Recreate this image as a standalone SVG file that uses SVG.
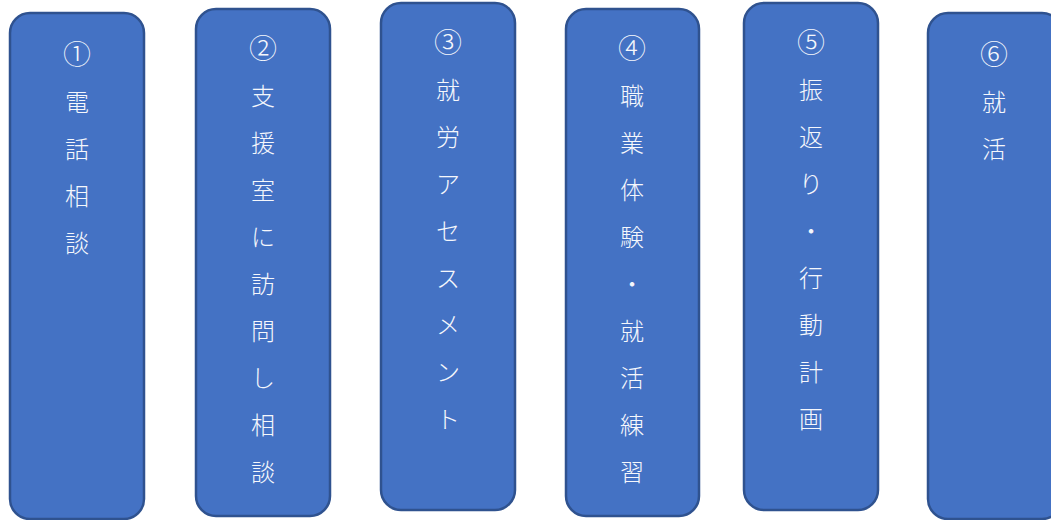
<svg xmlns="http://www.w3.org/2000/svg" width="1051" height="520" viewBox="0 0 1051 520">
<style>
.box{fill:#4472C4;stroke:#2F528F;stroke-width:2.5}
.t{fill:#F5F7FC;font-family:"Noto Sans CJK JP","Noto Sans CJK SC",sans-serif;font-size:24px;font-weight:300;text-anchor:middle}
.n{font-size:28px}
</style>
<rect width="1051" height="520" fill="#FFFFFF"/>
<g id="connectors"></g>
<g id="node1">
<rect class="box" x="10" y="13" width="134" height="506" rx="20"/>
<text class="t"><tspan class="n" x="77" y="65">①</tspan><tspan x="77" dy="46">電</tspan><tspan x="77" dy="47">話</tspan><tspan x="77" dy="47">相</tspan><tspan x="77" dy="47">談</tspan></text>
</g>
<g id="node2">
<rect class="box" x="196" y="9" width="134" height="507" rx="20"/>
<text class="t"><tspan class="n" x="263" y="59">②</tspan><tspan x="263" dy="46">支</tspan><tspan x="263" dy="47">援</tspan><tspan x="263" dy="47">室</tspan><tspan x="263" dy="47">に</tspan><tspan x="263" dy="47">訪</tspan><tspan x="263" dy="47">問</tspan><tspan x="263" dy="47">し</tspan><tspan x="263" dy="47">相</tspan><tspan x="263" dy="47">談</tspan></text>
</g>
<g id="node3">
<rect class="box" x="381" y="3" width="134" height="507" rx="20"/>
<text class="t"><tspan class="n" x="448" y="53">③</tspan><tspan x="448" dy="46">就</tspan><tspan x="448" dy="47">労</tspan><tspan x="448" dy="47">ア</tspan><tspan x="448" dy="47">セ</tspan><tspan x="448" dy="47">ス</tspan><tspan x="448" dy="47">メ</tspan><tspan x="448" dy="47">ン</tspan><tspan x="448" dy="47">ト</tspan></text>
</g>
<g id="node4">
<rect class="box" x="566" y="9" width="133" height="507" rx="20"/>
<text class="t"><tspan class="n" x="632" y="59">④</tspan><tspan x="632" dy="46">職</tspan><tspan x="632" dy="47">業</tspan><tspan x="632" dy="47">体</tspan><tspan x="632" dy="47">験</tspan><tspan x="632" dy="47">・</tspan><tspan x="632" dy="47">就</tspan><tspan x="632" dy="47">活</tspan><tspan x="632" dy="47">練</tspan><tspan x="632" dy="47">習</tspan></text>
</g>
<g id="node5">
<rect class="box" x="744" y="3" width="134" height="507" rx="20"/>
<text class="t"><tspan class="n" x="811" y="53">⑤</tspan><tspan x="811" dy="46">振</tspan><tspan x="811" dy="47">返</tspan><tspan x="811" dy="47">り</tspan><tspan x="811" dy="47">・</tspan><tspan x="811" dy="47">行</tspan><tspan x="811" dy="47">動</tspan><tspan x="811" dy="47">計</tspan><tspan x="811" dy="47">画</tspan></text>
</g>
<g id="node6">
<rect class="box" x="928" y="13" width="134" height="506" rx="20"/>
<text class="t"><tspan class="n" x="994" y="65">⑥</tspan><tspan x="994" dy="46">就</tspan><tspan x="994" dy="47">活</tspan></text>
</g>
</svg>
